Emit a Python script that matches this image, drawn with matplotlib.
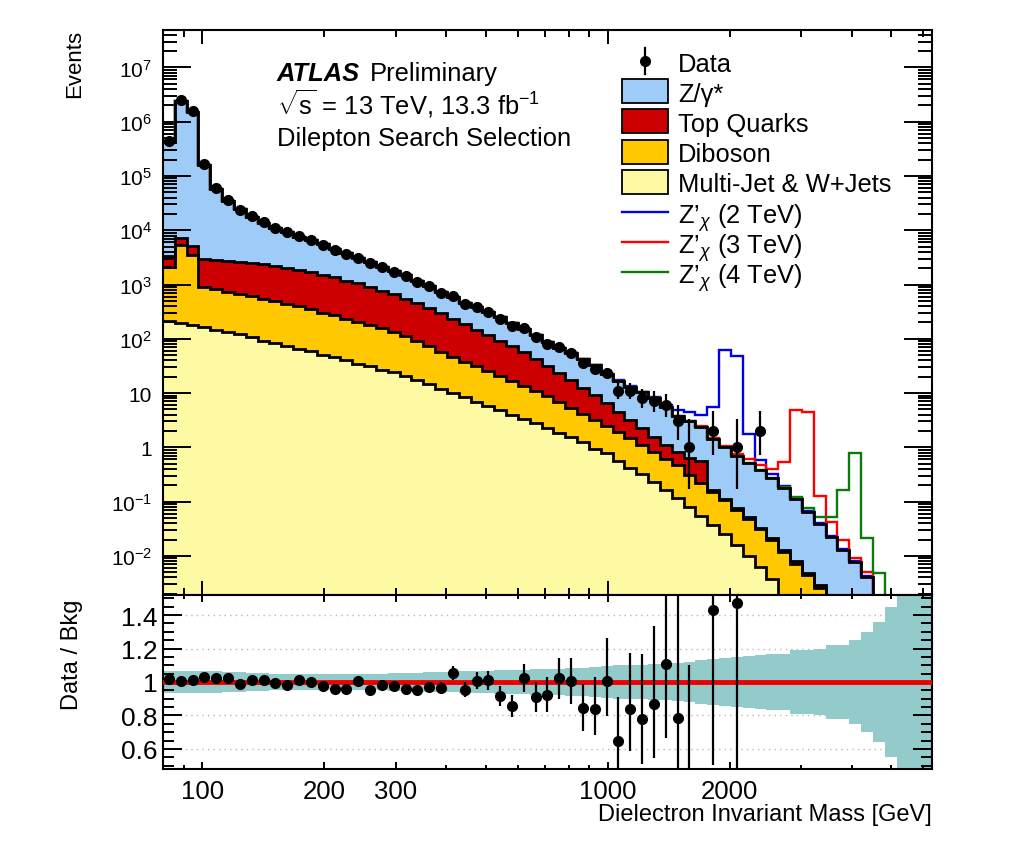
import numpy as np
import matplotlib
matplotlib.use('Agg')
import matplotlib.pyplot as plt
from matplotlib.ticker import FixedLocator, FuncFormatter, MultipleLocator, NullFormatter, LogLocator
from matplotlib.patches import Rectangle
from matplotlib.lines import Line2D

plt.rcParams['font.family'] = ['Liberation Sans', 'DejaVu Sans']
plt.rcParams['mathtext.fontset'] = 'custom'
plt.rcParams['mathtext.rm'] = 'Liberation Sans'
plt.rcParams['mathtext.it'] = 'Liberation Sans:italic'
plt.rcParams['mathtext.bf'] = 'Liberation Sans:bold'

# log binning of the dielectron mass
m_lo, m_hi, n_bins = 80, 6300, 65
edges = np.geomspace(m_lo, m_hi, n_bins + 1)
centers = np.sqrt(edges[:-1] * edges[1:])

# background processes, events per bin
multijet = np.array([209, 195, 178, 162, 148, 135, 120, 107, 93, 83,
                     74, 66, 59, 51, 46, 40, 35, 31, 27, 24,
                     20.4, 17.4, 14.5, 12.0, 10.0, 8.3, 6.9, 5.75, 4.8, 4.0,
                     3.3, 2.75, 2.24, 1.86, 1.55, 1.26, 0.95, 0.79, 0.56, 0.42,
                     0.32, 0.23, 0.166, 0.117, 0.079, 0.054, 0.037, 0.025, 0.0158, 0.0100,
                     0.0063, 0.0038, 0, 0, 0, 0, 0, 0, 0, 0,
                     0, 0, 0, 0, 0])
diboson = np.array([1880, 5050, 3290, 729, 665, 606, 556, 510, 457, 418,
                    373, 332, 288, 251, 223, 194, 169, 147, 128, 108,
                    92, 74, 58, 45.5, 36.8, 29.7, 24.0, 19.4, 15.6, 12.6,
                    10.2, 8.2, 6.5, 5.0, 3.8, 2.9, 2.3, 1.72, 1.39, 1.06,
                    0.78, 0.58, 0.44, 0.35, 0.23, 0.165, 0.114, 0.080, 0.055, 0.038,
                    0.025, 0.016, 0.012, 0.0072, 0.0044, 0.0026, 0, 0, 0, 0,
                    0, 0, 0, 0, 0])
top = np.array([1300, 2000, 1660, 2060, 2070, 2010, 1950, 1895, 1795, 1690,
                1595, 1464, 1350, 1210, 1080, 940, 843, 734, 621, 529,
                438, 356, 291, 238, 188, 148, 117, 90, 71, 56,
                42.7, 30.7, 22.2, 16.5, 12.0, 8.4, 5.9, 4.1, 2.6, 1.76,
                1.14, 0.77, 0.52, 0.345, 0.32, 0.34, 0.010, 0.006, 0.004, 0.003,
                0.002, 0.0015, 0.001, 0.0007, 0.0005, 0.0003, 0, 0, 0, 0,
                0, 0, 0, 0, 0])
drellyan = np.array([427600, 2451000, 1532000, 155300, 55650, 31880, 21610, 15310, 11520, 8870,
                     7300, 5760, 4800, 4025, 3230, 2680, 2040, 1720, 1365, 1085,
                     920, 710, 585, 435, 350, 280, 232, 199, 160, 126,
                     95, 76, 56.7, 45.2, 37.3, 30, 24.2, 16.2, 12.4, 9.9,
                     8.0, 6.5, 4.3, 3.0, 2.37, 1.84, 1.24, 0.89, 0.605, 0.47,
                     0.346, 0.248, 0.167, 0.102, 0.060, 0.035, 0.022, 0.013, 0.0077, 0.0040,
                     0, 0, 0, 0, 0])

# Z' signals (signal only, drawn on top of the background)
zp_2tev = np.array([0] * 38 + [0.1, 0.15, 0.25, 0.4, 0.6, 1.0, 1.4, 1.6, 4.2, 62,
                               47, 1.24, 0.21, 0.05, 0.012, 0.005, 0.003, 0.002, 0.001, 0.0006,
                               0.0004, 0.0002, 0, 0, 0, 0, 0])
zp_3tev = np.array([0] * 44 + [0.04, 0.05, 0.06, 0.07, 0.08, 0.09, 0.10, 0.13, 0.35, 4.8,
                               4.35, 0.087, 0.02, 0.007, 0.0015, 0.001, 0, 0, 0, 0, 0])
zp_4tev = np.array([0] * 48 + [0.003, 0.004, 0.005, 0.006, 0.008, 0.01, 0.012, 0.015, 0.029, 0.15,
                               0.78, 0.017, 0.0049, 0, 0, 0, 0])

data = np.array([440000, 2470000, 1560000, 163000, 60000, 35500, 24000, 18000, 14000, 11000,
                 9200, 7700, 6500, 5400, 4400, 3700, 3100, 2500, 2100, 1700,
                 1410, 1100, 920, 705, 615, 445, 383, 317, 230, 170,
                 155, 107, 81, 70, 55, 36, 28, 23, 11, 11,
                 8, 7, 6, 3, 1, 0, 2, 0, 1, 0,
                 2, 0, 0, 0, 0, 0, 0, 0, 0, 0,
                 0, 0, 0, 0, 0], dtype=float)
# poisson intervals for the low-count bins 36..50
err_lo_tail = [5.26, 4.77, 3.27, 3.27, 2.77, 2.58, 2.38, 1.63, 0.83, 0, 1.29, 0, 0.83, 0, 1.29]
err_hi_tail = [6.36, 5.86, 4.42, 4.42, 3.95, 3.77, 3.58, 2.92, 2.30, 0, 2.64, 0, 2.30, 0, 2.64]

# relative background uncertainty (ratio band half width)
bkg_unc = np.array([0.065, 0.065, 0.065, 0.065, 0.063, 0.060, 0.058, 0.055, 0.053, 0.050,
                    0.050, 0.050, 0.050, 0.050, 0.050, 0.050, 0.050, 0.050, 0.050, 0.052,
                    0.054, 0.056, 0.058, 0.060, 0.062, 0.064, 0.066, 0.068, 0.070, 0.072,
                    0.074, 0.076, 0.078, 0.080, 0.082, 0.085, 0.090, 0.095, 0.100, 0.100,
                    0.100, 0.105, 0.110, 0.115, 0.120, 0.130, 0.140, 0.145, 0.150, 0.155,
                    0.160, 0.165, 0.170, 0.190, 0.190, 0.200, 0.220, 0.220, 0.250, 0.300,
                    0.360, 0.450, 0.600, 0.600, 0.600])

c_mj, c_db, c_top, c_dy = '#fefaa4', '#ffc800', '#cc0000', '#9ecbf7'
c_band = '#93cbcb'

err_lo = np.sqrt(data)
err_hi = np.sqrt(data)
err_lo[36:51] = err_lo_tail
err_hi[36:51] = err_hi_tail

stack = np.cumsum([multijet, diboson, top, drellyan], axis=0)
total = stack[-1]

W, H = 1024, 845
def fx(px):
    return px / W
def fy(py):
    return 1 - py / H

fig = plt.figure(figsize=(10.24, 8.45), dpi=100)
ax = fig.add_axes([fx(163), fy(596), fx(932) - fx(163), fy(31) - fy(596)])
rx = fig.add_axes([fx(163), fy(770), fx(932) - fx(163), fy(596) - fy(770)])

# upper panel
ax.set_xscale('log')
ax.set_yscale('log')
lower = np.full(n_bins, 1e-9)
for i, col in enumerate([c_mj, c_db, c_top, c_dy]):
    ax.stairs(stack[i], edges, baseline=lower, fill=True, color=col, lw=0, zorder=1)
    lower = stack[i]
for sig, col in [(zp_2tev, '#0000ee'), (zp_3tev, '#ff0000'), (zp_4tev, '#0a7a0a')]:
    ax.stairs(total + sig, edges, baseline=None, color=col, lw=1.7, zorder=2)
for i in range(4):
    ax.stairs(stack[i], edges, baseline=None, color='k', lw=2.0, zorder=3)

has = data > 0
ax.errorbar(centers[has], data[has], yerr=[err_lo[has], err_hi[has]], fmt='o', color='k',
            ms=7, elinewidth=1.6, capsize=0, zorder=5)

ax.set_xlim(m_lo, m_hi)
ax.set_ylim(1.9e-3, 4.9e7)

def log_label(v, pos):
    e = int(round(np.log10(v)))
    if e == 0:
        return '1'
    if e == 1:
        return '10'
    return r'$10^{%d}$' % e

ax.yaxis.set_major_locator(FixedLocator(10.0 ** np.arange(-2, 8)))
ax.yaxis.set_major_formatter(FuncFormatter(log_label))
ax.yaxis.set_minor_locator(LogLocator(base=10, subs=np.arange(2, 10), numticks=100))
ax.yaxis.set_minor_formatter(NullFormatter())
ax.xaxis.set_major_locator(FixedLocator([100, 1000]))
ax.xaxis.set_minor_locator(FixedLocator([80, 90, 200, 300, 400, 500, 600, 700, 800, 900,
                                         2000, 3000, 4000, 5000, 6000]))
ax.xaxis.set_major_formatter(NullFormatter())
ax.xaxis.set_minor_formatter(NullFormatter())
ax.tick_params(which='both', direction='in', top=True, right=True, width=1.4)
ax.tick_params(axis='y', which='major', length=20, labelsize=15, pad=8)
ax.tick_params(axis='y', which='minor', length=10)
ax.tick_params(axis='x', which='major', length=10)
ax.tick_params(axis='x', which='minor', length=5)
for s in ax.spines.values():
    s.set_linewidth(1.5)

# ratio panel
rx.set_xscale('log')
ratio = np.full(n_bins, np.nan)
ratio[has] = data[has] / total[has]
r_lo = ratio * err_lo / np.where(has, data, 1)
r_hi = ratio * err_hi / np.where(has, data, 1)
for v in [0.6, 0.8, 1.2, 1.4]:
    rx.axhline(v, color='#b8b8b8', ls=(0, (1, 3)), lw=1.0, zorder=0.5)
rx.stairs(1 + bkg_unc, edges, baseline=1 - bkg_unc, fill=True, color=c_band, lw=0, zorder=1)
rx.axhline(1.0, color='#ee0000', lw=3.5, zorder=3)
rx.errorbar(centers[has], ratio[has], yerr=[r_lo[has], r_hi[has]], fmt='o', color='k',
            ms=7, elinewidth=1.6, capsize=0, zorder=5)
rx.set_xlim(m_lo, m_hi)
rx.set_ylim(0.48, 1.52)
rx.yaxis.set_major_locator(FixedLocator([0.6, 0.8, 1.0, 1.2, 1.4]))
rx.yaxis.set_major_formatter(FuncFormatter(lambda v, p: '1' if abs(v - 1) < 1e-6 else '%.1f' % v))
rx.yaxis.set_minor_locator(MultipleLocator(0.05))
rx.xaxis.set_major_locator(FixedLocator([100, 200, 300, 1000, 2000]))
rx.xaxis.set_major_formatter(FuncFormatter(lambda v, p: '%d' % v))
rx.xaxis.set_minor_locator(FixedLocator([80, 90, 400, 500, 600, 700, 800, 900,
                                         3000, 4000, 5000, 6000]))
rx.xaxis.set_minor_formatter(NullFormatter())
rx.tick_params(which='both', direction='in', top=True, right=True, width=1.4)
rx.tick_params(axis='y', which='major', length=14, labelsize=19, pad=4)
rx.tick_params(axis='y', which='minor', length=8)
rx.tick_params(axis='x', which='major', length=5, labelsize=18.5, pad=7)
rx.tick_params(axis='x', which='minor', length=3)
for s in rx.spines.values():
    s.set_linewidth(1.5)

# titles
fig.text(fx(75), fy(30), 'Events', rotation=90, ha='center', va='top', fontsize=16)
fig.text(fx(72), fy(655), 'Data / Bkg', rotation=90, ha='center', va='center', fontsize=17)
fig.text(fx(932), fy(821), 'Dielectron Invariant Mass [GeV]', ha='right', va='baseline', fontsize=17)

fig.text(fx(277), fy(81), 'ATLAS', fontsize=18.4, fontweight='bold', style='italic', va='baseline')
fig.text(fx(370), fy(81), 'Preliminary', fontsize=18.4, va='baseline')
fig.text(fx(277), fy(114), r'$\sqrt{\mathrm{s}}$ = 13 TeV, 13.3 fb$^{\mathrm{-1}}$', fontsize=18.4, va='baseline')
fig.text(fx(277), fy(146), 'Dilepton Search Selection', fontsize=18.4, va='baseline')

# legend, drawn by hand to keep ROOT-like row spacing
labels = ['Data', 'Z/γ*', 'Top Quarks', 'Diboson', 'Multi-Jet & W+Jets',
          'Z’$_{\\chi}$ (2 TeV)', 'Z’$_{\\chi}$ (3 TeV)', 'Z’$_{\\chi}$ (4 TeV)']
kinds = [('data', 'k'), ('box', c_dy), ('box', c_top), ('box', c_db), ('box', c_mj),
         ('line', '#0000ee'), ('line', '#ff0000'), ('line', '#0a7a0a')]
for i, (lab, (kind, col)) in enumerate(zip(labels, kinds)):
    yc = 62 + 30.2 * i
    if kind == 'data':
        fig.add_artist(Line2D([fx(645), fx(645)], [fy(yc - 13), fy(yc + 13)], color='k', lw=1.6))
        fig.add_artist(Line2D([fx(645)], [fy(yc)], marker='o', ms=7, color='k'))
    elif kind == 'box':
        fig.add_artist(Rectangle((fx(622), fy(yc + 12)), fx(668) - fx(622), fy(yc - 12) - fy(yc + 12),
                                 transform=fig.transFigure, facecolor=col, edgecolor='k', lw=1.3))
    else:
        fig.add_artist(Line2D([fx(622), fx(668)], [fy(yc), fy(yc)], color=col, lw=1.7))
    fig.text(fx(678), fy(yc), lab, fontsize=18.4, va='center_baseline')

fig.savefig('out.png', dpi=100)
